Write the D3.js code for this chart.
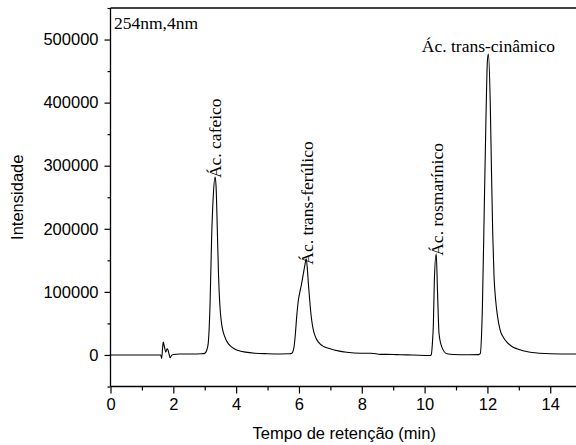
<!DOCTYPE html>
<html><head><meta charset="utf-8">
<script src="https://cdn.jsdelivr.net/npm/d3@7"></script>
<style>body{margin:0;background:#fff}svg{display:block}</style>
</head><body>
<svg id="c" width="576" height="445"></svg>
<script>
const times = [0,1.55,1.60,1.63,1.66,1.68,1.72,1.76,1.80,1.83,1.86,1.90,1.94,2.00,2.20,2.60,2.90,3.00,3.06,3.11,3.17,3.22,3.27,3.33,3.36,3.40,3.44,3.48,3.53,3.59,3.67,3.75,3.90,4.07,4.30,4.60,5.00,5.40,5.70,5.77,5.84,5.88,5.93,5.98,6.03,6.08,6.14,6.19,6.23,6.27,6.30,6.34,6.38,6.42,6.46,6.54,6.62,6.80,6.99,7.25,7.52,7.96,8.30,8.60,9.00,9.22,9.60,10.17,10.21,10.25,10.28,10.31,10.37,10.41,10.46,10.55,10.71,10.92,11.40,11.72,11.77,11.84,11.90,11.95,12.00,12.03,12.09,12.13,12.17,12.21,12.26,12.32,12.40,12.52,12.62,12.78,12.94,13.36,14.00,14.82];
const intensity = [0,0,0,-5500,12000,20300,12000,4400,9800,8000,2000,-4500,-1000,800,1500,1500,1800,2500,7000,18000,81600,186700,250000,282000,268000,200000,125000,80000,52000,36000,25000,18000,11000,7000,4500,2800,2000,1600,1800,2500,12000,30000,62000,86400,100000,112000,128700,143000,152500,135000,113000,88000,65800,50000,38800,27000,20300,13000,9800,6500,4400,2800,2800,1000,800,300,0,-800,0,20000,50000,118000,160400,102000,33600,12400,1900,800,300,500,2000,75800,234000,366000,466800,477000,400000,290000,190000,125000,88000,62000,40000,27000,20300,13500,9800,4400,1900,1500];
const peakNames = ["Ác. cafeico","Ác. trans-ferúlico","Ác. rosmarínico","Ác. trans-cinâmico"];
const peakTimes = [3.33,6.23,10.37,12.03];
const peakValues = [282000,152500,160400,477000];
const xTicks = [0,2,4,6,8,10,12,14];
const yTicks = [0,100000,200000,300000,400000,500000];
const annotation = "254nm,4nm";
const xTitle = "Tempo de retenção (min)";
const yTitle = "Intensidade";

const svg = d3.select("#c");
const L = 110.5, R = 576, T = 8, B = 386.5;
const x = d3.scaleLinear().domain([0,14.82]).range([L,R]);
const y = d3.scaleLinear().domain([-50000,550000]).range([B,T]);
const sans = "'Liberation Sans', Arial, sans-serif";
const serif = "'Liberation Serif', 'Times New Roman', serif";

svg.append("defs").append("clipPath").attr("id","clip")
  .append("rect").attr("x",L).attr("y",T).attr("width",R-L).attr("height",B-T);

const data = times.map((t,i)=>[t,intensity[i]]);
const line = d3.line().x(d=>x(d[0])).y(d=>y(d[1])).curve(d3.curveMonotoneX);
svg.append("path").datum(data).attr("d",line).attr("fill","none")
  .attr("stroke","#000").attr("stroke-width",1.1).attr("clip-path","url(#clip)");

const xMinor = d3.range(0,15,1).filter(v=>v%2!==0);
const yMinor = d3.range(-50000,550001,100000);
const xAx = svg.append("g").attr("transform",`translate(0,${B})`)
  .call(d3.axisBottom(x).tickValues(xTicks).tickSize(7).tickPadding(5).tickFormat(d3.format("d")));
svg.append("g").attr("transform",`translate(0,${B})`)
  .call(d3.axisBottom(x).tickValues(xMinor).tickSize(4).tickFormat(""))
  .select(".domain").remove();
const yAx = svg.append("g").attr("transform",`translate(${L},0)`)
  .call(d3.axisLeft(y).tickValues(yTicks).tickSize(6).tickPadding(6).tickFormat(d3.format("d")));
svg.append("g").attr("transform",`translate(${L},0)`)
  .call(d3.axisLeft(y).tickValues(yMinor).tickSize(3).tickFormat(""))
  .select(".domain").remove();
svg.selectAll(".domain").attr("stroke-width",1.3);
svg.selectAll(".tick line").attr("stroke-width",1.2);
svg.selectAll(".tick text").attr("font-family",sans).attr("font-size",16.5).attr("fill","#000");
xAx.select(".domain").attr("d",`M${L},0H${R}`);
yAx.select(".domain").attr("d",`M0,${B}V${T}`);

svg.append("line").attr("x1",L).attr("x2",R).attr("y1",T).attr("y2",T)
  .attr("stroke","#000").attr("stroke-width",1.3);

svg.append("text").attr("x",(L+R)/2+1).attr("y",439).attr("text-anchor","middle")
  .attr("font-family",sans).attr("font-size",16.5).text(xTitle);
svg.append("text").attr("transform",`translate(23,${(T+B)/2}) rotate(-90)`).attr("text-anchor","middle")
  .attr("font-family",sans).attr("font-size",16.5).text(yTitle);

svg.append("text").attr("x",L+3.5).attr("y",29).attr("font-family",serif).attr("font-size",17.5).text(annotation);

const offs = [[6,1],[7,6],[7,2],[0,0]];
peakNames.forEach((n,i)=>{
  const px = x(peakTimes[i]), py = y(peakValues[i]);
  if(i<3){
    svg.append("text").attr("transform",`translate(${px+offs[i][0]},${py+offs[i][1]}) rotate(-90)`)
      .attr("font-family",serif).attr("font-size",17.5).text(n);
  } else {
    svg.append("text").attr("x",px).attr("y",py-2).attr("text-anchor","middle")
      .attr("font-family",serif).attr("font-size",17.5).text(n);
  }
});
</script>
</body></html>
